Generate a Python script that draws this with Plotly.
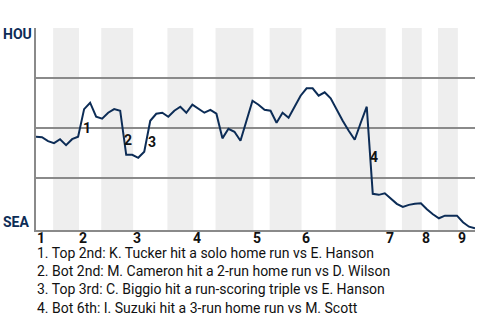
import plotly.graph_objects as go
import numpy as np

# Plate appearances per half-inning (top 1, bot 1, top 2, ...)
half_inning_pas = [3, 4, 4, 5, 6, 4, 4, 6, 3, 5, 6, 8, 3, 3, 3, 3, 3]
inning_labels = ["1", "2", "3", "4", "5", "6", "7", "8", "9"]

# HOU win probability after each plate appearance (index 0 = pregame)
hou_win_prob = [
    0.457, 0.455, 0.435, 0.425, 0.445, 0.415, 0.445, 0.457,
    0.595, 0.627, 0.557, 0.547, 0.577, 0.595, 0.587, 0.367,
    0.367, 0.352, 0.382, 0.537, 0.572, 0.577, 0.557, 0.587,
    0.607, 0.577, 0.617, 0.599, 0.577, 0.591, 0.572, 0.449,
    0.497, 0.482, 0.437, 0.537, 0.637, 0.617, 0.592, 0.587,
    0.527, 0.577, 0.552, 0.607, 0.662, 0.699, 0.699, 0.662,
    0.679, 0.649, 0.590, 0.537, 0.487, 0.442, 0.527, 0.607,
    0.172, 0.167, 0.175, 0.147, 0.122, 0.107, 0.117, 0.122,
    0.125, 0.095, 0.070, 0.050, 0.063, 0.063, 0.063, 0.030,
    0.008, 0.000,
]

# Key events: label, plate appearance index, label position
event_labels = ["1", "2", "3", "4"]
event_x = [8.5, 15.3, 19.3, 56.2]
event_y = [0.50, 0.44, 0.43, 0.355]
event_texts = [
    "1. Top 2nd: K. Tucker hit a solo home run vs E. Hanson",
    "2. Bot 2nd: M. Cameron hit a 2-run home run vs D. Wilson",
    "3. Top 3rd: C. Biggio hit a run-scoring triple vs E. Hanson",
    "4. Bot 6th: I. Suzuki hit a 3-run home run vs M. Scott",
]

NAVY = "#0C2C56"
GRID = "#8a8a8a"
BAND = "#eeeeee"
FONT = "Roboto"

bounds = np.concatenate([[0], np.cumsum(half_inning_pas)])
total = bounds[-1]
x = list(range(len(hou_win_prob)))

fig = go.Figure()
fig.add_trace(go.Scatter(
    x=x, y=hou_win_prob, mode="lines",
    line=dict(color=NAVY, width=2), hoverinfo="skip", showlegend=False,
))

shapes = []
for k in range(1, len(half_inning_pas), 2):
    shapes.append(dict(
        type="rect", xref="x", yref="paper",
        x0=bounds[k] - 0.15, x1=bounds[k + 1] + 0.15, y0=0, y1=1,
        fillcolor=BAND, line=dict(width=0), layer="below",
    ))

annotations = []
for lab, ex, ey in zip(event_labels, event_x, event_y):
    annotations.append(dict(
        x=ex, y=ey, xref="x", yref="y", text=f"<b>{lab}</b>", showarrow=False,
        font=dict(family=FONT, size=14, color="#111111"),
    ))

for i, lab in enumerate(inning_labels):
    annotations.append(dict(
        x=bounds[2 * i], y=-0.0396, xref="x", yref="paper", text=f"<b>{lab}</b>",
        showarrow=False, xanchor="left", yanchor="middle", xshift=-1,
        font=dict(family=FONT, size=14, color="#111111"),
    ))

annotations.append(dict(
    x=-35 / 439, y=0.97, xref="paper", yref="y", text="<b>HOU</b>", showarrow=False,
    xanchor="left", yanchor="middle", font=dict(family=FONT, size=14, color=NAVY),
))
annotations.append(dict(
    x=-35 / 439, y=0.03, xref="paper", yref="y", text="<b>SEA</b>", showarrow=False,
    xanchor="left", yanchor="middle", font=dict(family=FONT, size=14, color=NAVY),
))

annotations.append(dict(
    x=0, y=(230 - 243) / 202, xref="paper", yref="paper",
    text="<br>".join(event_texts), showarrow=False, align="left",
    xanchor="left", yanchor="top", xshift=-1,
    font=dict(family=FONT, size=14, color="#111111"),
))

fig.update_layout(
    width=480, height=320,
    margin=dict(l=36, r=5, t=28, b=90),
    paper_bgcolor="white", plot_bgcolor="white",
    shapes=shapes, annotations=annotations,
    xaxis=dict(range=[0, total], showgrid=False, zeroline=False,
               showticklabels=False, ticks="", showline=True,
               linecolor=GRID, linewidth=1.5),
    yaxis=dict(range=[-0.0085, 1.0], tickvals=[0.25, 0.5, 0.75, 1.0],
               showgrid=True, gridcolor=GRID, gridwidth=1.5, zeroline=False,
               showticklabels=False, ticks="", showline=True,
               linecolor=GRID, linewidth=1.5),
)

fig.write_html("out.html")
